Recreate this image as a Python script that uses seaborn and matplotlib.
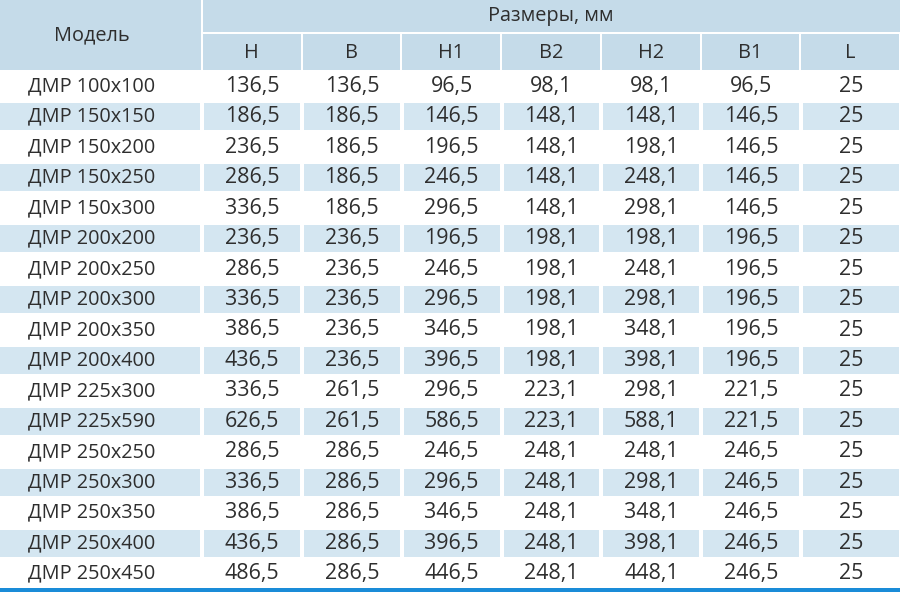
import numpy as np
import pandas as pd
import seaborn as sns
import matplotlib
matplotlib.use("Agg")
import matplotlib.pyplot as plt
from matplotlib.colors import ListedColormap
from matplotlib.patches import Rectangle

# ---------------- data ----------------
models = ["ДМР 100x100", "ДМР 150x150", "ДМР 150x200", "ДМР 150x250", "ДМР 150x300",
          "ДМР 200x200", "ДМР 200x250", "ДМР 200x300", "ДМР 200x350", "ДМР 200x400",
          "ДМР 225x300", "ДМР 225x590", "ДМР 250x250", "ДМР 250x300", "ДМР 250x350",
          "ДМР 250x400", "ДМР 250x450"]
H = [136.5, 186.5, 236.5, 286.5, 336.5, 236.5, 286.5, 336.5, 386.5, 436.5,
     336.5, 626.5, 286.5, 336.5, 386.5, 436.5, 486.5]
B = [136.5, 186.5, 186.5, 186.5, 186.5, 236.5, 236.5, 236.5, 236.5, 236.5,
     261.5, 261.5, 286.5, 286.5, 286.5, 286.5, 286.5]
H1 = [96.5, 146.5, 196.5, 246.5, 296.5, 196.5, 246.5, 296.5, 346.5, 396.5,
      296.5, 586.5, 246.5, 296.5, 346.5, 396.5, 446.5]
B2 = [98.1, 148.1, 148.1, 148.1, 148.1, 198.1, 198.1, 198.1, 198.1, 198.1,
      223.1, 223.1, 248.1, 248.1, 248.1, 248.1, 248.1]
H2 = [98.1, 148.1, 198.1, 248.1, 298.1, 198.1, 248.1, 298.1, 348.1, 398.1,
      298.1, 588.1, 248.1, 298.1, 348.1, 398.1, 448.1]
B1 = [96.5, 146.5, 146.5, 146.5, 146.5, 196.5, 196.5, 196.5, 196.5, 196.5,
      221.5, 221.5, 246.5, 246.5, 246.5, 246.5, 246.5]
L = [25] * 17

col_labels = ["H", "B", "H1", "B2", "H2", "B1", "L"]
group_label = "Размеры, мм"
model_label = "Модель"

# ---------------- style ----------------
sns.set_theme(style="white")
plt.rcParams["font.family"] = ["Open Sans", "DejaVu Sans"]

HEAD = "#c5dbe9"
SHADE = "#d4e6f1"
TXT = "#2e2e2e"
BLUE = "#1a8cd8"
FS = 14.3
FS_NUM = 15.4

W, Hpx = 900, 592
fig = plt.figure(figsize=(W / 100, Hpx / 100), dpi=100)
fig.patch.set_facecolor("white")

def fig_rect(x0, y0, x1, y1):
    """pixel box (top-down) -> figure fraction rect"""
    return [x0 / W, (Hpx - y1) / Hpx, (x1 - x0) / W, (y1 - y0) / Hpx]

body_top, body_bot = 71, 589
model_x0, split_x, right_x = -18, 202, 900

def fmt(v):
    return str(v) if isinstance(v, int) else f"{v:.1f}".replace(".", ",")

df = pd.DataFrame({"H": H, "B": B, "H1": H1, "B2": B2, "H2": H2, "B1": B1, "L": L},
                  index=models)
annot = df.map(fmt).values
n = len(models)
shade = np.tile((np.arange(n) % 2)[:, None], (1, len(col_labels))).astype(float)
cmap = ListedColormap(["white", SHADE])

# model column
ax_m = fig.add_axes(fig_rect(model_x0, body_top, split_x, body_bot))
sns.heatmap(shade[:, :1], ax=ax_m, cmap=cmap, vmin=0, vmax=1, cbar=False,
            annot=np.array(models)[:, None], fmt="", linewidths=1.5, linecolor="white",
            xticklabels=False, yticklabels=False,
            annot_kws={"color": TXT, "fontsize": FS})
ax_m.set_axis_off()

# value columns
ax_d = fig.add_axes(fig_rect(split_x, body_top, right_x + 1, body_bot))
sns.heatmap(shade, ax=ax_d, cmap=cmap, vmin=0, vmax=1, cbar=False,
            annot=annot, fmt="", linewidths=1.5, linecolor="white",
            xticklabels=False, yticklabels=False,
            annot_kws={"color": TXT, "fontsize": FS_NUM})
ax_d.set_axis_off()

# header + bottom rule overlay in pixel coordinates
ax_o = fig.add_axes([0, 0, 1, 1])
ax_o.set_xlim(0, W)
ax_o.set_ylim(Hpx, 0)
ax_o.set_axis_off()
ax_o.patch.set_alpha(0)

ax_o.add_patch(Rectangle((model_x0, 0), split_x - 1 - model_x0, 70, color=HEAD, lw=0))
ax_o.text((model_x0 + split_x) / 2, 35, model_label, ha="center", va="center",
          color=TXT, fontsize=FS)
ax_o.add_patch(Rectangle((split_x + 1, 0), right_x - split_x, 32, color=HEAD, lw=0))
ax_o.text((split_x + right_x) / 2, 15.5, group_label, ha="center", va="center",
          color=TXT, fontsize=FS)
cw = (right_x - split_x) / len(col_labels)
for i, lab in enumerate(col_labels):
    x0 = split_x + i * cw
    ax_o.add_patch(Rectangle((x0 + 1, 34), cw - 2, 36, color=HEAD, lw=0))
    ax_o.text(x0 + cw / 2, 52.5, lab, ha="center", va="center", color=TXT, fontsize=FS)

ax_o.add_patch(Rectangle((0, 587.5), W, 5, color=BLUE, lw=0))

fig.savefig("out.png", dpi=100)
